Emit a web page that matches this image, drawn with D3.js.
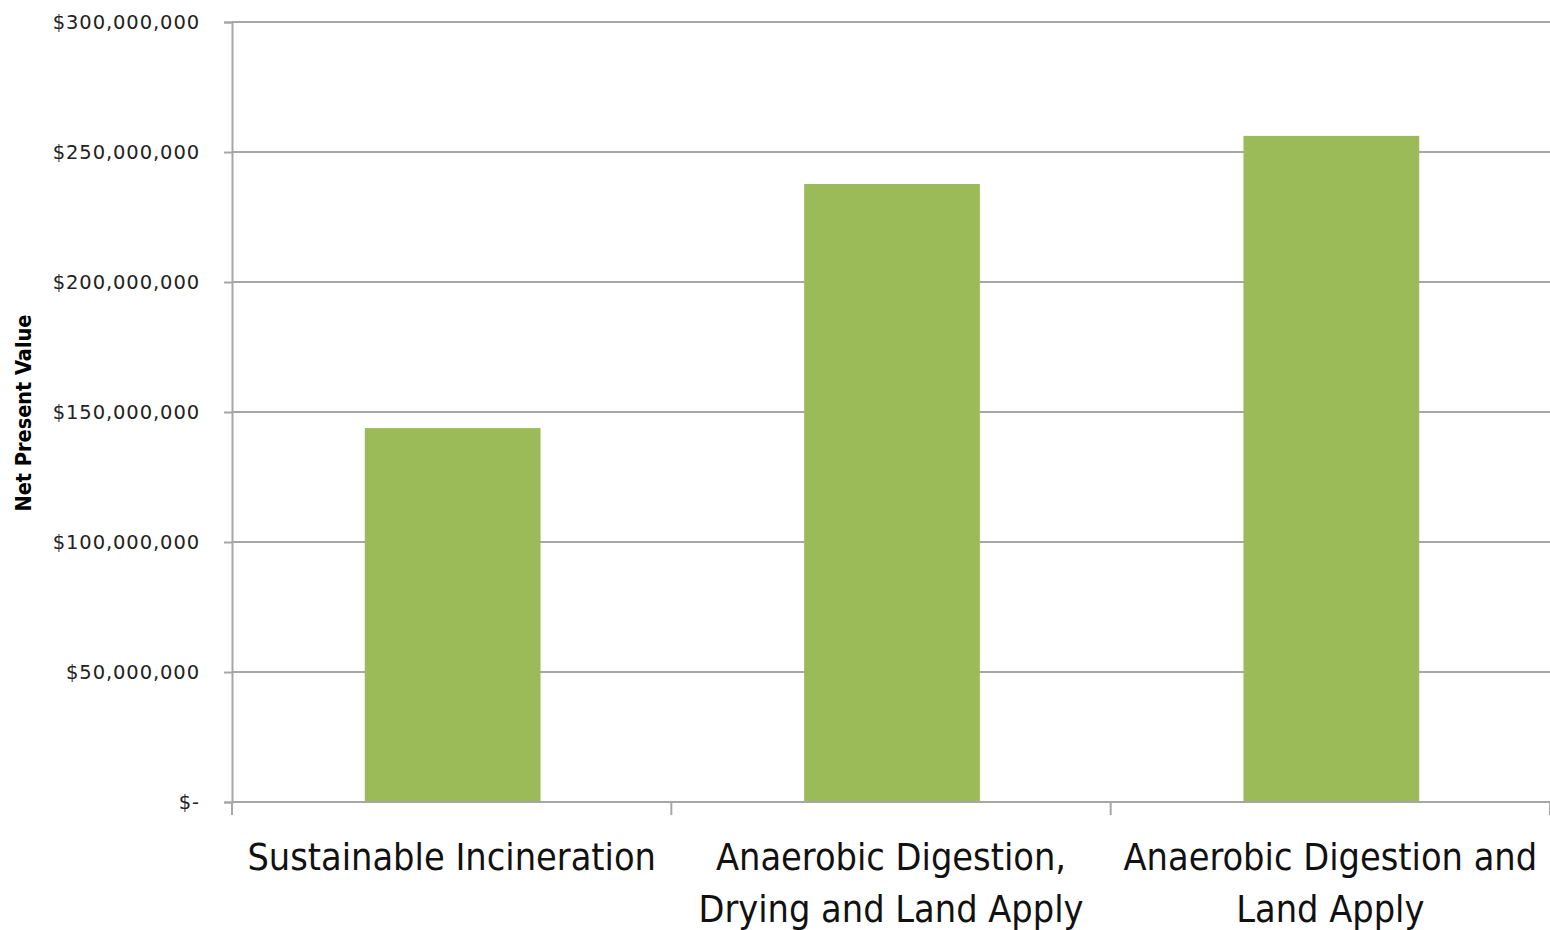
<!DOCTYPE html>
<html>
<head>
<meta charset="utf-8">
<script src="https://cdn.jsdelivr.net/npm/d3@7"></script>
<style>
  html, body { margin: 0; padding: 0; background: #fff; }
  svg { display: block; }
  .ytick text { font-family: "DejaVu Sans", "Liberation Sans", sans-serif; font-size: 19.5px; letter-spacing: 0.9px; fill: #222; }
  .xlab { font-family: "DejaVu Sans Condensed", "Liberation Sans", sans-serif; font-size: 37.5px; fill: #111; }
  .ytitle { font-family: "DejaVu Sans Condensed", "Liberation Sans", sans-serif; font-size: 21.5px; font-weight: bold; fill: #000; }
</style>
</head>
<body>
<svg id="chart" width="1550" height="930"></svg>
<script>
// Net present value by biosolids option
const categories = [
  "Sustainable Incineration",
  "Anaerobic Digestion, Drying and Land Apply",
  "Anaerobic Digestion and Land Apply"
];
const npvValues = [143800000, 237700000, 256200000];
const categoryLabelLines = [
  ["Sustainable Incineration"],
  ["Anaerobic Digestion,", "Drying and Land Apply"],
  ["Anaerobic Digestion and", "Land Apply"]
];
const yTicks = [0, 50000000, 100000000, 150000000, 200000000, 250000000, 300000000];
const yTitle = "Net Present Value";

const W = 1550, H = 930;
const margin = { left: 232, right: 0, top: 22, bottom: 128 };
const plotW = W - margin.left - margin.right;
const plotH = H - margin.top - margin.bottom;

const svg = d3.select("#chart");
const g = svg.append("g").attr("transform", `translate(${margin.left},${margin.top})`);

const x = d3.scaleBand().domain(categories).range([0, plotW]).paddingInner(0).paddingOuter(0);
const y = d3.scaleLinear().domain([0, 300000000]).range([plotH, 0]);

const fmtMoney = v => v === 0 ? "$-" : "$" + d3.format(",")(v);

// horizontal gridlines
g.append("g")
  .selectAll("line")
  .data(yTicks.filter(t => t > 0))
  .join("line")
  .attr("x1", 0).attr("x2", plotW)
  .attr("y1", d => y(d)).attr("y2", d => y(d))
  .attr("stroke", "#a6a6a6").attr("stroke-width", 2);

// bars
const barFrac = 0.4;
g.append("g")
  .selectAll("rect")
  .data(categories.map((c, i) => ({ c, v: npvValues[i] })))
  .join("rect")
  .attr("x", d => x(d.c) + x.bandwidth() * (1 - barFrac) / 2 + 1)
  .attr("width", x.bandwidth() * barFrac)
  .attr("y", d => y(d.v))
  .attr("height", d => plotH - y(d.v))
  .attr("fill", "#9bbb59");

// y axis
const yAxis = g.append("g")
  .attr("class", "ytick")
  .call(d3.axisLeft(y).tickValues(yTicks).tickFormat(fmtMoney).tickSize(8).tickPadding(24));
yAxis.select(".domain").attr("stroke", "#a6a6a6").attr("stroke-width", 2);
yAxis.selectAll(".tick line").attr("stroke", "#a6a6a6").attr("stroke-width", 2);

// x axis: baseline plus boundary ticks between categories
const xBoundaries = categories.map(c => x(c)).concat([plotW]);
g.append("line")
  .attr("x1", 0).attr("x2", plotW)
  .attr("y1", plotH).attr("y2", plotH)
  .attr("stroke", "#a6a6a6").attr("stroke-width", 2);
g.append("g")
  .selectAll("line")
  .data(xBoundaries)
  .join("line")
  .attr("x1", d => d).attr("x2", d => d)
  .attr("y1", plotH).attr("y2", plotH + 13)
  .attr("stroke", "#a6a6a6").attr("stroke-width", 2);

// category labels
const labels = g.append("g")
  .selectAll("text")
  .data(categories)
  .join("text")
  .attr("class", "xlab")
  .attr("text-anchor", "middle")
  .attr("x", d => x(d) + x.bandwidth() / 2)
  .attr("y", plotH + 68);
labels.each(function(d, i) {
  const t = d3.select(this);
  categoryLabelLines[i].forEach((line, j) => {
    t.append("tspan")
      .attr("x", x(d) + x.bandwidth() / 2)
      .attr("dy", j === 0 ? 0 : 52)
      .text(line);
  });
});

// y axis title
svg.append("text")
  .attr("class", "ytitle")
  .attr("text-anchor", "middle")
  .attr("transform", `translate(31, 413) rotate(-90)`)
  .text(yTitle);
</script>
</body>
</html>
